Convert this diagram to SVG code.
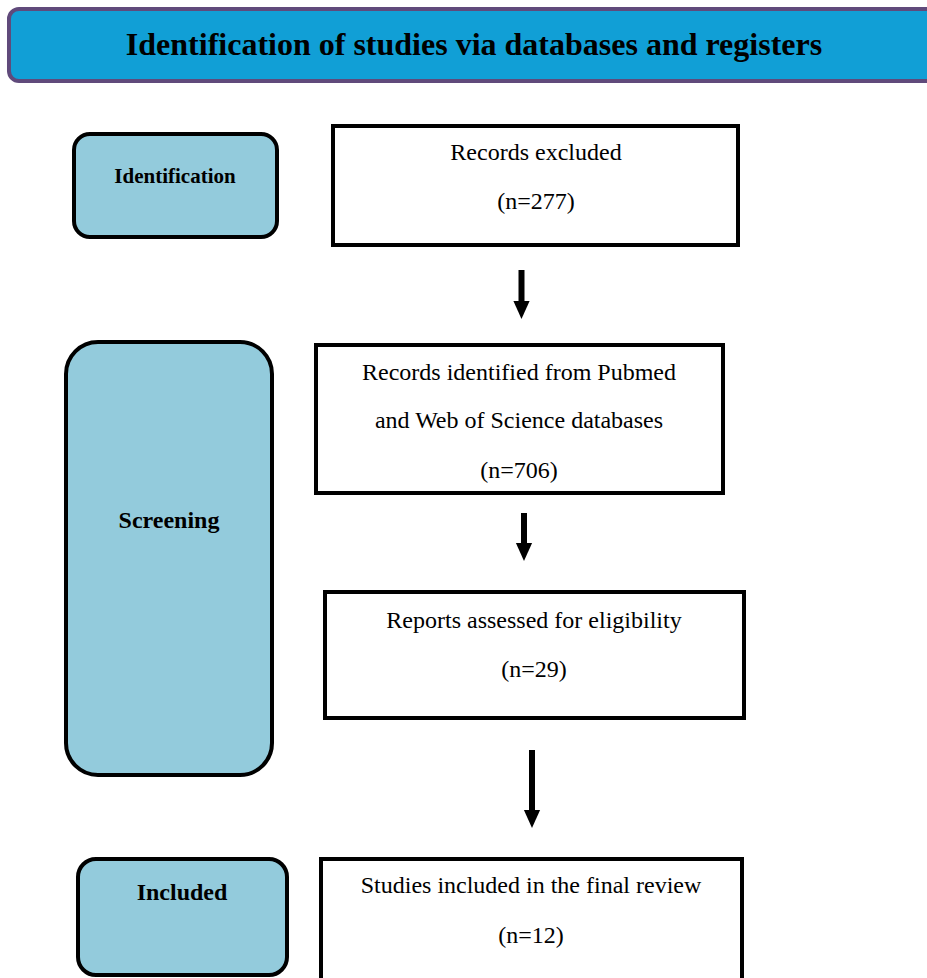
<svg xmlns="http://www.w3.org/2000/svg" width="927" height="978" viewBox="0 0 927 978">
<style>
.phase{fill:#93cbdc;stroke:#000;stroke-width:4}
.box{fill:#fff;stroke:#000;stroke-width:4}
.pt{font-family:"Liberation Serif","Times New Roman",serif;font-weight:bold;fill:#000;text-anchor:middle}
.bt{font-family:"Liberation Serif","Times New Roman",serif;font-size:24px;fill:#000;text-anchor:middle}
.arr{stroke:#000;stroke-width:6}
</style>
<defs>
<marker id="ah" markerUnits="userSpaceOnUse" markerWidth="18" markerHeight="20" refX="0" refY="9" orient="auto" viewBox="0 0 20 18">
<path d="M0,0 L20,9 L0,18 Z" fill="#000"/>
</marker>
</defs>
<rect width="927" height="978" fill="#fff"/>
<g id="header">
<rect x="9" y="9" width="940" height="72" rx="10" fill="#119fd6" stroke="#604a7b" stroke-width="4"/>
<text class="pt" x="474" y="55" font-size="32">Identification of studies via databases and registers</text>
</g>
<g id="phase-identification">
<rect class="phase" x="74" y="134" width="203" height="103" rx="16"/>
<text class="pt" x="175" y="183" font-size="21">Identification</text>
</g>
<g id="phase-screening">
<rect class="phase" x="66" y="342" width="206" height="433" rx="32"/>
<text class="pt" x="169" y="528" font-size="24">Screening</text>
</g>
<g id="phase-included">
<rect class="phase" x="78" y="859" width="209" height="116" rx="18"/>
<text class="pt" x="182" y="900" font-size="24">Included</text>
</g>
<g id="records-excluded">
<rect class="box" x="333" y="126" width="405" height="119"/>
<text class="bt" x="536" y="160">Records excluded</text>
<text class="bt" x="536" y="209">(n=277)</text>
</g>
<g id="records-identified">
<rect class="box" x="316" y="345" width="407" height="148"/>
<text class="bt" x="519" y="380">Records identified from Pubmed</text>
<text class="bt" x="519" y="428">and Web of Science databases</text>
<text class="bt" x="519" y="478">(n=706)</text>
</g>
<g id="reports-assessed">
<rect class="box" x="325" y="592" width="419" height="126"/>
<text class="bt" x="534" y="628">Reports assessed for eligibility</text>
<text class="bt" x="534" y="677">(n=29)</text>
</g>
<g id="studies-included">
<rect class="box" x="321" y="859" width="421" height="130"/>
<text class="bt" x="531" y="893">Studies included in the final review</text>
<text class="bt" x="531" y="943">(n=12)</text>
</g>
<g id="connectors">
<line class="arr" x1="521.5" y1="270" x2="521.5" y2="301" marker-end="url(#ah)"/>
<line class="arr" x1="524" y1="513" x2="524" y2="543" marker-end="url(#ah)"/>
<line class="arr" x1="532" y1="750" x2="532" y2="810" marker-end="url(#ah)"/>
</g>
</svg>
